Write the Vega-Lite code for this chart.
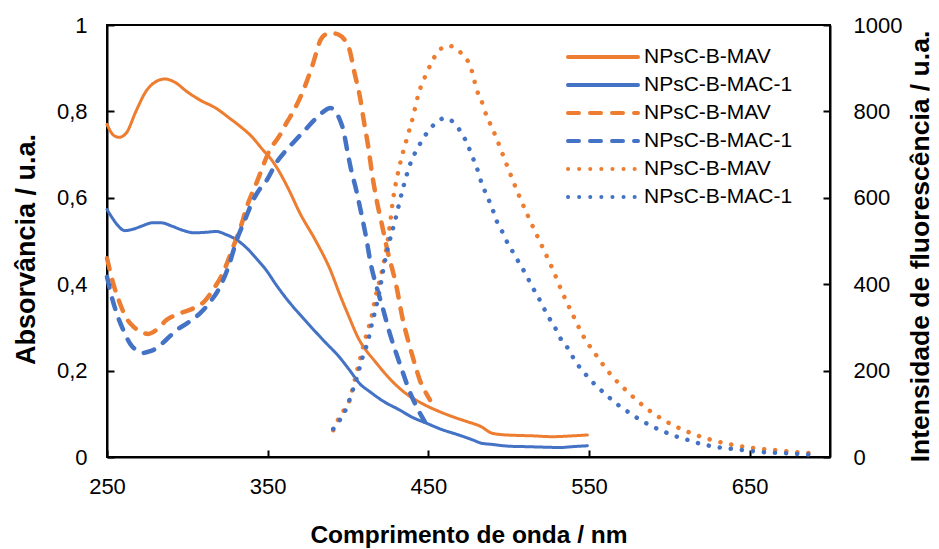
{
  "$schema": "https://vega.github.io/schema/vega-lite/v6.json",
  "width": 723,
  "height": 432,
  "autosize": {"type": "none"},
  "padding": {"left": 107, "top": 25, "right": 109, "bottom": 92},
  "background": "white",
  "config": {
    "font": "Liberation Sans",
    "view": {"stroke": "black", "strokeWidth": 2},
    "axis": {
      "domainColor": "black", "domainWidth": 2,
      "tickColor": "black", "tickWidth": 2, "tickSize": -7,
      "grid": false, "labelFlush": false, "labelOverlap": false,
      "labelFont": "Liberation Sans", "labelFontSize": 22, "labelColor": "black",
      "titleFont": "Liberation Sans", "titleFontSize": 24, "titleFontWeight": "bold", "titleColor": "black"
    }
  },
  "datasets": {
    "abs": [
      {"s": "1: NPsC-B-MAV", "nm": 250, "v": 0.770},
      {"s": "1: NPsC-B-MAV", "nm": 254, "v": 0.745},
      {"s": "1: NPsC-B-MAV", "nm": 257.5, "v": 0.740},
      {"s": "1: NPsC-B-MAV", "nm": 262, "v": 0.750},
      {"s": "1: NPsC-B-MAV", "nm": 268, "v": 0.800},
      {"s": "1: NPsC-B-MAV", "nm": 274, "v": 0.845},
      {"s": "1: NPsC-B-MAV", "nm": 280, "v": 0.868},
      {"s": "1: NPsC-B-MAV", "nm": 286, "v": 0.875},
      {"s": "1: NPsC-B-MAV", "nm": 292, "v": 0.868},
      {"s": "1: NPsC-B-MAV", "nm": 300, "v": 0.845},
      {"s": "1: NPsC-B-MAV", "nm": 308, "v": 0.826},
      {"s": "1: NPsC-B-MAV", "nm": 318, "v": 0.807},
      {"s": "1: NPsC-B-MAV", "nm": 326, "v": 0.785},
      {"s": "1: NPsC-B-MAV", "nm": 333, "v": 0.765},
      {"s": "1: NPsC-B-MAV", "nm": 340, "v": 0.742},
      {"s": "1: NPsC-B-MAV", "nm": 347, "v": 0.711},
      {"s": "1: NPsC-B-MAV", "nm": 352, "v": 0.690},
      {"s": "1: NPsC-B-MAV", "nm": 356, "v": 0.668},
      {"s": "1: NPsC-B-MAV", "nm": 363, "v": 0.620},
      {"s": "1: NPsC-B-MAV", "nm": 370, "v": 0.565},
      {"s": "1: NPsC-B-MAV", "nm": 380, "v": 0.500},
      {"s": "1: NPsC-B-MAV", "nm": 389, "v": 0.433},
      {"s": "1: NPsC-B-MAV", "nm": 395, "v": 0.375},
      {"s": "1: NPsC-B-MAV", "nm": 400, "v": 0.330},
      {"s": "1: NPsC-B-MAV", "nm": 407, "v": 0.271},
      {"s": "1: NPsC-B-MAV", "nm": 412, "v": 0.243},
      {"s": "1: NPsC-B-MAV", "nm": 416, "v": 0.225},
      {"s": "1: NPsC-B-MAV", "nm": 425, "v": 0.185},
      {"s": "1: NPsC-B-MAV", "nm": 436, "v": 0.147},
      {"s": "1: NPsC-B-MAV", "nm": 446, "v": 0.124},
      {"s": "1: NPsC-B-MAV", "nm": 457, "v": 0.105},
      {"s": "1: NPsC-B-MAV", "nm": 466, "v": 0.092},
      {"s": "1: NPsC-B-MAV", "nm": 474, "v": 0.082},
      {"s": "1: NPsC-B-MAV", "nm": 483, "v": 0.070},
      {"s": "1: NPsC-B-MAV", "nm": 489, "v": 0.056},
      {"s": "1: NPsC-B-MAV", "nm": 495, "v": 0.052},
      {"s": "1: NPsC-B-MAV", "nm": 505, "v": 0.050},
      {"s": "1: NPsC-B-MAV", "nm": 515, "v": 0.049},
      {"s": "1: NPsC-B-MAV", "nm": 527, "v": 0.047},
      {"s": "1: NPsC-B-MAV", "nm": 540, "v": 0.049},
      {"s": "1: NPsC-B-MAV", "nm": 549, "v": 0.051},
      {"s": "2: NPsC-B-MAC-1", "nm": 250, "v": 0.573},
      {"s": "2: NPsC-B-MAC-1", "nm": 253, "v": 0.555},
      {"s": "2: NPsC-B-MAC-1", "nm": 257, "v": 0.535},
      {"s": "2: NPsC-B-MAC-1", "nm": 261, "v": 0.524},
      {"s": "2: NPsC-B-MAC-1", "nm": 266, "v": 0.527},
      {"s": "2: NPsC-B-MAC-1", "nm": 272, "v": 0.535},
      {"s": "2: NPsC-B-MAC-1", "nm": 278, "v": 0.542},
      {"s": "2: NPsC-B-MAC-1", "nm": 284, "v": 0.542},
      {"s": "2: NPsC-B-MAC-1", "nm": 290, "v": 0.535},
      {"s": "2: NPsC-B-MAC-1", "nm": 297, "v": 0.525},
      {"s": "2: NPsC-B-MAC-1", "nm": 304, "v": 0.519},
      {"s": "2: NPsC-B-MAC-1", "nm": 311, "v": 0.520},
      {"s": "2: NPsC-B-MAC-1", "nm": 318, "v": 0.522},
      {"s": "2: NPsC-B-MAC-1", "nm": 324, "v": 0.515},
      {"s": "2: NPsC-B-MAC-1", "nm": 331, "v": 0.502},
      {"s": "2: NPsC-B-MAC-1", "nm": 338, "v": 0.480},
      {"s": "2: NPsC-B-MAC-1", "nm": 344, "v": 0.455},
      {"s": "2: NPsC-B-MAC-1", "nm": 349, "v": 0.433},
      {"s": "2: NPsC-B-MAC-1", "nm": 355, "v": 0.400},
      {"s": "2: NPsC-B-MAC-1", "nm": 362, "v": 0.365},
      {"s": "2: NPsC-B-MAC-1", "nm": 370, "v": 0.330},
      {"s": "2: NPsC-B-MAC-1", "nm": 378, "v": 0.297},
      {"s": "2: NPsC-B-MAC-1", "nm": 386, "v": 0.265},
      {"s": "2: NPsC-B-MAC-1", "nm": 394, "v": 0.234},
      {"s": "2: NPsC-B-MAC-1", "nm": 401, "v": 0.201},
      {"s": "2: NPsC-B-MAC-1", "nm": 407, "v": 0.171},
      {"s": "2: NPsC-B-MAC-1", "nm": 414, "v": 0.150},
      {"s": "2: NPsC-B-MAC-1", "nm": 422, "v": 0.129},
      {"s": "2: NPsC-B-MAC-1", "nm": 432, "v": 0.109},
      {"s": "2: NPsC-B-MAC-1", "nm": 440, "v": 0.092},
      {"s": "2: NPsC-B-MAC-1", "nm": 449, "v": 0.078},
      {"s": "2: NPsC-B-MAC-1", "nm": 458, "v": 0.064},
      {"s": "2: NPsC-B-MAC-1", "nm": 468, "v": 0.052},
      {"s": "2: NPsC-B-MAC-1", "nm": 478, "v": 0.039},
      {"s": "2: NPsC-B-MAC-1", "nm": 483, "v": 0.032},
      {"s": "2: NPsC-B-MAC-1", "nm": 490, "v": 0.029},
      {"s": "2: NPsC-B-MAC-1", "nm": 500, "v": 0.025},
      {"s": "2: NPsC-B-MAC-1", "nm": 510, "v": 0.024},
      {"s": "2: NPsC-B-MAC-1", "nm": 520, "v": 0.023},
      {"s": "2: NPsC-B-MAC-1", "nm": 532, "v": 0.022},
      {"s": "2: NPsC-B-MAC-1", "nm": 540, "v": 0.024},
      {"s": "2: NPsC-B-MAC-1", "nm": 549, "v": 0.026}
    ],
    "fl": [
      {"s": "3: NPsC-B-MAV", "nm": 250, "v": 460},
      {"s": "3: NPsC-B-MAV", "nm": 254, "v": 400},
      {"s": "3: NPsC-B-MAV", "nm": 258, "v": 356},
      {"s": "3: NPsC-B-MAV", "nm": 262, "v": 322},
      {"s": "3: NPsC-B-MAV", "nm": 266.4, "v": 302},
      {"s": "3: NPsC-B-MAV", "nm": 271, "v": 290},
      {"s": "3: NPsC-B-MAV", "nm": 275.7, "v": 285},
      {"s": "3: NPsC-B-MAV", "nm": 281, "v": 295},
      {"s": "3: NPsC-B-MAV", "nm": 287, "v": 317},
      {"s": "3: NPsC-B-MAV", "nm": 295, "v": 332},
      {"s": "3: NPsC-B-MAV", "nm": 303.7, "v": 344},
      {"s": "3: NPsC-B-MAV", "nm": 310, "v": 358},
      {"s": "3: NPsC-B-MAV", "nm": 316, "v": 387},
      {"s": "3: NPsC-B-MAV", "nm": 322, "v": 425},
      {"s": "3: NPsC-B-MAV", "nm": 328.6, "v": 487},
      {"s": "3: NPsC-B-MAV", "nm": 333, "v": 530},
      {"s": "3: NPsC-B-MAV", "nm": 337, "v": 579},
      {"s": "3: NPsC-B-MAV", "nm": 343, "v": 634},
      {"s": "3: NPsC-B-MAV", "nm": 351.4, "v": 711},
      {"s": "3: NPsC-B-MAV", "nm": 357.6, "v": 745},
      {"s": "3: NPsC-B-MAV", "nm": 362, "v": 775},
      {"s": "3: NPsC-B-MAV", "nm": 366, "v": 800},
      {"s": "3: NPsC-B-MAV", "nm": 370, "v": 830},
      {"s": "3: NPsC-B-MAV", "nm": 374, "v": 866},
      {"s": "3: NPsC-B-MAV", "nm": 378, "v": 908},
      {"s": "3: NPsC-B-MAV", "nm": 383, "v": 966},
      {"s": "3: NPsC-B-MAV", "nm": 386, "v": 978},
      {"s": "3: NPsC-B-MAV", "nm": 390, "v": 981},
      {"s": "3: NPsC-B-MAV", "nm": 394, "v": 978},
      {"s": "3: NPsC-B-MAV", "nm": 398, "v": 965},
      {"s": "3: NPsC-B-MAV", "nm": 401, "v": 942},
      {"s": "3: NPsC-B-MAV", "nm": 404, "v": 890},
      {"s": "3: NPsC-B-MAV", "nm": 407.4, "v": 834},
      {"s": "3: NPsC-B-MAV", "nm": 410, "v": 775},
      {"s": "3: NPsC-B-MAV", "nm": 412.6, "v": 718},
      {"s": "3: NPsC-B-MAV", "nm": 415, "v": 655},
      {"s": "3: NPsC-B-MAV", "nm": 417.8, "v": 595},
      {"s": "3: NPsC-B-MAV", "nm": 421, "v": 540},
      {"s": "3: NPsC-B-MAV", "nm": 424, "v": 487},
      {"s": "3: NPsC-B-MAV", "nm": 430.2, "v": 394},
      {"s": "3: NPsC-B-MAV", "nm": 434, "v": 320},
      {"s": "3: NPsC-B-MAV", "nm": 438.5, "v": 255},
      {"s": "3: NPsC-B-MAV", "nm": 442, "v": 210},
      {"s": "3: NPsC-B-MAV", "nm": 444.7, "v": 178},
      {"s": "3: NPsC-B-MAV", "nm": 448, "v": 152},
      {"s": "3: NPsC-B-MAV", "nm": 451, "v": 132},
      {"s": "4: NPsC-B-MAC-1", "nm": 250, "v": 417},
      {"s": "4: NPsC-B-MAC-1", "nm": 253, "v": 370},
      {"s": "4: NPsC-B-MAC-1", "nm": 256, "v": 333},
      {"s": "4: NPsC-B-MAC-1", "nm": 260, "v": 295},
      {"s": "4: NPsC-B-MAC-1", "nm": 264.3, "v": 263},
      {"s": "4: NPsC-B-MAC-1", "nm": 268, "v": 248},
      {"s": "4: NPsC-B-MAC-1", "nm": 272.6, "v": 241},
      {"s": "4: NPsC-B-MAC-1", "nm": 277, "v": 245},
      {"s": "4: NPsC-B-MAC-1", "nm": 281, "v": 252},
      {"s": "4: NPsC-B-MAC-1", "nm": 287, "v": 272},
      {"s": "4: NPsC-B-MAC-1", "nm": 293.4, "v": 294},
      {"s": "4: NPsC-B-MAC-1", "nm": 300, "v": 310},
      {"s": "4: NPsC-B-MAC-1", "nm": 308, "v": 333},
      {"s": "4: NPsC-B-MAC-1", "nm": 314, "v": 358},
      {"s": "4: NPsC-B-MAC-1", "nm": 320.3, "v": 394},
      {"s": "4: NPsC-B-MAC-1", "nm": 326, "v": 445},
      {"s": "4: NPsC-B-MAC-1", "nm": 330.7, "v": 502},
      {"s": "4: NPsC-B-MAC-1", "nm": 336, "v": 550},
      {"s": "4: NPsC-B-MAC-1", "nm": 341, "v": 595},
      {"s": "4: NPsC-B-MAC-1", "nm": 345, "v": 620},
      {"s": "4: NPsC-B-MAC-1", "nm": 349.3, "v": 640},
      {"s": "4: NPsC-B-MAC-1", "nm": 355.5, "v": 682},
      {"s": "4: NPsC-B-MAC-1", "nm": 362, "v": 712},
      {"s": "4: NPsC-B-MAC-1", "nm": 368, "v": 736},
      {"s": "4: NPsC-B-MAC-1", "nm": 374, "v": 760},
      {"s": "4: NPsC-B-MAC-1", "nm": 379, "v": 780},
      {"s": "4: NPsC-B-MAC-1", "nm": 384.6, "v": 799},
      {"s": "4: NPsC-B-MAC-1", "nm": 389, "v": 808},
      {"s": "4: NPsC-B-MAC-1", "nm": 392, "v": 800},
      {"s": "4: NPsC-B-MAC-1", "nm": 395, "v": 780},
      {"s": "4: NPsC-B-MAC-1", "nm": 397, "v": 758},
      {"s": "4: NPsC-B-MAC-1", "nm": 400, "v": 700},
      {"s": "4: NPsC-B-MAC-1", "nm": 402, "v": 664},
      {"s": "4: NPsC-B-MAC-1", "nm": 405, "v": 620},
      {"s": "4: NPsC-B-MAC-1", "nm": 407.4, "v": 579},
      {"s": "4: NPsC-B-MAC-1", "nm": 411.6, "v": 502},
      {"s": "4: NPsC-B-MAC-1", "nm": 414, "v": 450},
      {"s": "4: NPsC-B-MAC-1", "nm": 417.8, "v": 394},
      {"s": "4: NPsC-B-MAC-1", "nm": 422, "v": 340},
      {"s": "4: NPsC-B-MAC-1", "nm": 426, "v": 286},
      {"s": "4: NPsC-B-MAC-1", "nm": 430, "v": 240},
      {"s": "4: NPsC-B-MAC-1", "nm": 434.3, "v": 194},
      {"s": "4: NPsC-B-MAC-1", "nm": 438, "v": 155},
      {"s": "4: NPsC-B-MAC-1", "nm": 442.7, "v": 116},
      {"s": "4: NPsC-B-MAC-1", "nm": 447.8, "v": 82},
      {"s": "5: NPsC-B-MAV", "nm": 390.8, "v": 62},
      {"s": "5: NPsC-B-MAV", "nm": 395, "v": 95},
      {"s": "5: NPsC-B-MAV", "nm": 401, "v": 132},
      {"s": "5: NPsC-B-MAV", "nm": 405, "v": 190},
      {"s": "5: NPsC-B-MAV", "nm": 408.4, "v": 240},
      {"s": "5: NPsC-B-MAV", "nm": 411.5, "v": 283},
      {"s": "5: NPsC-B-MAV", "nm": 414.7, "v": 325},
      {"s": "5: NPsC-B-MAV", "nm": 417, "v": 368},
      {"s": "5: NPsC-B-MAV", "nm": 419.8, "v": 410},
      {"s": "5: NPsC-B-MAV", "nm": 422, "v": 445},
      {"s": "5: NPsC-B-MAV", "nm": 424, "v": 485},
      {"s": "5: NPsC-B-MAV", "nm": 426, "v": 535},
      {"s": "5: NPsC-B-MAV", "nm": 428, "v": 595},
      {"s": "5: NPsC-B-MAV", "nm": 432, "v": 672},
      {"s": "5: NPsC-B-MAV", "nm": 436.4, "v": 734},
      {"s": "5: NPsC-B-MAV", "nm": 440.5, "v": 788},
      {"s": "5: NPsC-B-MAV", "nm": 443.7, "v": 838},
      {"s": "5: NPsC-B-MAV", "nm": 448.9, "v": 888},
      {"s": "5: NPsC-B-MAV", "nm": 456, "v": 938},
      {"s": "5: NPsC-B-MAV", "nm": 462.3, "v": 952},
      {"s": "5: NPsC-B-MAV", "nm": 469.6, "v": 938},
      {"s": "5: NPsC-B-MAV", "nm": 476.9, "v": 896},
      {"s": "5: NPsC-B-MAV", "nm": 480, "v": 852},
      {"s": "5: NPsC-B-MAV", "nm": 484, "v": 815},
      {"s": "5: NPsC-B-MAV", "nm": 486.2, "v": 790},
      {"s": "5: NPsC-B-MAV", "nm": 489.3, "v": 765},
      {"s": "5: NPsC-B-MAV", "nm": 492.4, "v": 738},
      {"s": "5: NPsC-B-MAV", "nm": 497.6, "v": 688},
      {"s": "5: NPsC-B-MAV", "nm": 505.9, "v": 610},
      {"s": "5: NPsC-B-MAV", "nm": 512, "v": 558},
      {"s": "5: NPsC-B-MAV", "nm": 521.4, "v": 483},
      {"s": "5: NPsC-B-MAV", "nm": 527.6, "v": 433},
      {"s": "5: NPsC-B-MAV", "nm": 533.5, "v": 380},
      {"s": "5: NPsC-B-MAV", "nm": 539.7, "v": 331},
      {"s": "5: NPsC-B-MAV", "nm": 546.3, "v": 281},
      {"s": "5: NPsC-B-MAV", "nm": 554.6, "v": 235},
      {"s": "5: NPsC-B-MAV", "nm": 563.5, "v": 191},
      {"s": "5: NPsC-B-MAV", "nm": 574.3, "v": 150},
      {"s": "5: NPsC-B-MAV", "nm": 585.3, "v": 114},
      {"s": "5: NPsC-B-MAV", "nm": 597.7, "v": 83},
      {"s": "5: NPsC-B-MAV", "nm": 611, "v": 59},
      {"s": "5: NPsC-B-MAV", "nm": 625, "v": 41},
      {"s": "5: NPsC-B-MAV", "nm": 639.6, "v": 28},
      {"s": "5: NPsC-B-MAV", "nm": 654, "v": 20},
      {"s": "5: NPsC-B-MAV", "nm": 668.7, "v": 15},
      {"s": "5: NPsC-B-MAV", "nm": 680, "v": 11},
      {"s": "5: NPsC-B-MAV", "nm": 691.5, "v": 8},
      {"s": "6: NPsC-B-MAC-1", "nm": 390.8, "v": 65},
      {"s": "6: NPsC-B-MAC-1", "nm": 395, "v": 86},
      {"s": "6: NPsC-B-MAC-1", "nm": 399, "v": 113},
      {"s": "6: NPsC-B-MAC-1", "nm": 402.5, "v": 150},
      {"s": "6: NPsC-B-MAC-1", "nm": 406, "v": 190},
      {"s": "6: NPsC-B-MAC-1", "nm": 409, "v": 230},
      {"s": "6: NPsC-B-MAC-1", "nm": 412.6, "v": 271},
      {"s": "6: NPsC-B-MAC-1", "nm": 415, "v": 310},
      {"s": "6: NPsC-B-MAC-1", "nm": 417.8, "v": 352},
      {"s": "6: NPsC-B-MAC-1", "nm": 420, "v": 392},
      {"s": "6: NPsC-B-MAC-1", "nm": 421.9, "v": 433},
      {"s": "6: NPsC-B-MAC-1", "nm": 425, "v": 487},
      {"s": "6: NPsC-B-MAC-1", "nm": 429, "v": 543},
      {"s": "6: NPsC-B-MAC-1", "nm": 434.3, "v": 623},
      {"s": "6: NPsC-B-MAC-1", "nm": 438.5, "v": 676},
      {"s": "6: NPsC-B-MAC-1", "nm": 441.6, "v": 703},
      {"s": "6: NPsC-B-MAC-1", "nm": 445, "v": 726},
      {"s": "6: NPsC-B-MAC-1", "nm": 448.9, "v": 749},
      {"s": "6: NPsC-B-MAC-1", "nm": 454, "v": 771},
      {"s": "6: NPsC-B-MAC-1", "nm": 460, "v": 784},
      {"s": "6: NPsC-B-MAC-1", "nm": 466.5, "v": 772},
      {"s": "6: NPsC-B-MAC-1", "nm": 470.7, "v": 749},
      {"s": "6: NPsC-B-MAC-1", "nm": 474.4, "v": 724},
      {"s": "6: NPsC-B-MAC-1", "nm": 476.9, "v": 699},
      {"s": "6: NPsC-B-MAC-1", "nm": 480, "v": 672},
      {"s": "6: NPsC-B-MAC-1", "nm": 482, "v": 647},
      {"s": "6: NPsC-B-MAC-1", "nm": 484.5, "v": 622},
      {"s": "6: NPsC-B-MAC-1", "nm": 487.6, "v": 595},
      {"s": "6: NPsC-B-MAC-1", "nm": 490.3, "v": 570},
      {"s": "6: NPsC-B-MAC-1", "nm": 492.8, "v": 544},
      {"s": "6: NPsC-B-MAC-1", "nm": 496.5, "v": 518},
      {"s": "6: NPsC-B-MAC-1", "nm": 499.6, "v": 493},
      {"s": "6: NPsC-B-MAC-1", "nm": 503.4, "v": 470},
      {"s": "6: NPsC-B-MAC-1", "nm": 507, "v": 446},
      {"s": "6: NPsC-B-MAC-1", "nm": 511, "v": 421},
      {"s": "6: NPsC-B-MAC-1", "nm": 514.2, "v": 397},
      {"s": "6: NPsC-B-MAC-1", "nm": 518, "v": 373},
      {"s": "6: NPsC-B-MAC-1", "nm": 521.4, "v": 348},
      {"s": "6: NPsC-B-MAC-1", "nm": 525, "v": 323},
      {"s": "6: NPsC-B-MAC-1", "nm": 528.8, "v": 300},
      {"s": "6: NPsC-B-MAC-1", "nm": 532, "v": 276},
      {"s": "6: NPsC-B-MAC-1", "nm": 536.6, "v": 253},
      {"s": "6: NPsC-B-MAC-1", "nm": 540.5, "v": 228},
      {"s": "6: NPsC-B-MAC-1", "nm": 544.7, "v": 205},
      {"s": "6: NPsC-B-MAC-1", "nm": 549.7, "v": 184},
      {"s": "6: NPsC-B-MAC-1", "nm": 554.6, "v": 164},
      {"s": "6: NPsC-B-MAC-1", "nm": 560.2, "v": 146},
      {"s": "6: NPsC-B-MAC-1", "nm": 565.8, "v": 127},
      {"s": "6: NPsC-B-MAC-1", "nm": 571.8, "v": 111},
      {"s": "6: NPsC-B-MAC-1", "nm": 578, "v": 95},
      {"s": "6: NPsC-B-MAC-1", "nm": 584.2, "v": 81},
      {"s": "6: NPsC-B-MAC-1", "nm": 590.9, "v": 68},
      {"s": "6: NPsC-B-MAC-1", "nm": 597.7, "v": 57},
      {"s": "6: NPsC-B-MAC-1", "nm": 604.8, "v": 47},
      {"s": "6: NPsC-B-MAC-1", "nm": 612, "v": 39},
      {"s": "6: NPsC-B-MAC-1", "nm": 619, "v": 31},
      {"s": "6: NPsC-B-MAC-1", "nm": 626.4, "v": 25},
      {"s": "6: NPsC-B-MAC-1", "nm": 633.6, "v": 21},
      {"s": "6: NPsC-B-MAC-1", "nm": 641.3, "v": 18},
      {"s": "6: NPsC-B-MAC-1", "nm": 648.3, "v": 15},
      {"s": "6: NPsC-B-MAC-1", "nm": 655.8, "v": 12},
      {"s": "6: NPsC-B-MAC-1", "nm": 663, "v": 10},
      {"s": "6: NPsC-B-MAC-1", "nm": 670.7, "v": 9},
      {"s": "6: NPsC-B-MAC-1", "nm": 680, "v": 7},
      {"s": "6: NPsC-B-MAC-1", "nm": 693, "v": 4}
    ]
  },
  "layer": [
    {
      "data": {"name": "abs"},
      "mark": {"type": "line", "strokeWidth": 3, "strokeCap": "round", "strokeJoin": "round", "interpolate": "monotone"},
      "encoding": {
        "x": {
          "field": "nm", "type": "quantitative",
          "scale": {"domain": [250, 700], "nice": false, "zero": false},
          "axis": {"values": [250, 350, 450, 550, 650], "title": "Comprimento de onda / nm", "labelPadding": 26, "titlePadding": 26, "titleFontSize": 24.5}
        },
        "y": {
          "field": "v", "type": "quantitative",
          "scale": {"domain": [0, 1], "nice": false},
          "axis": {"orient": "left", "values": [0, 0.2, 0.4, 0.6, 0.8, 1], "labelExpr": "replace(format(datum.value, '.1~f'), '.', ',')", "title": "Absorvância / u.a.", "titleFontSize": 27, "titleY": 224, "labelPadding": 27, "titlePadding": 16}
        },
        "color": {
          "field": "s", "type": "nominal",
          "scale": {
            "domain": ["1: NPsC-B-MAV", "2: NPsC-B-MAC-1", "3: NPsC-B-MAV", "4: NPsC-B-MAC-1", "5: NPsC-B-MAV", "6: NPsC-B-MAC-1"],
            "range": ["#ED7D31", "#4472C4", "#ED7D31", "#4472C4", "#ED7D31", "#4472C4"]
          },
          "legend": {"orient": "none", "legendX": 459, "legendY": 18, "title": null, "symbolType": "stroke", "symbolSize": 4900, "symbolStrokeWidth": 4, "clipHeight": 28, "labelFont": "Liberation Sans", "labelFontSize": 21, "labelColor": "black", "labelOffset": 4, "rowPadding": 0, "labelExpr": "substring(datum.label, 3)", "encoding": {"symbols": {"strokeCap": {"value": "round"}}}}
        },
        "strokeDash": {
          "field": "s", "type": "nominal",
          "scale": {
            "domain": ["1: NPsC-B-MAV", "2: NPsC-B-MAC-1", "3: NPsC-B-MAV", "4: NPsC-B-MAC-1", "5: NPsC-B-MAV", "6: NPsC-B-MAC-1"],
            "range": [[1, 0], [1, 0], [11, 11], [11, 11], [0.1, 11], [0.1, 11]]
          },
          "legend": {"orient": "none", "legendX": 459, "legendY": 18, "title": null, "symbolType": "stroke", "symbolSize": 4900, "symbolStrokeWidth": 4, "clipHeight": 28, "labelFont": "Liberation Sans", "labelFontSize": 21, "labelColor": "black", "labelOffset": 4, "rowPadding": 0, "labelExpr": "substring(datum.label, 3)", "encoding": {"symbols": {"strokeCap": {"value": "round"}}}}
        }
      }
    },
    {
      "data": {"name": "fl"},
      "mark": {"type": "line", "strokeWidth": 4.5, "strokeCap": "round", "strokeJoin": "round", "interpolate": "monotone"},
      "encoding": {
        "x": {"field": "nm", "type": "quantitative"},
        "y": {
          "field": "v", "type": "quantitative",
          "scale": {"domain": [0, 1000], "nice": false},
          "axis": {"orient": "right", "values": [0, 200, 400, 600, 800, 1000], "format": "d", "title": "Intensidade de fluorescência / u.a.", "titleAngle": 270, "titleFontSize": 26.5, "titleFontWeight": "bold", "titleFont": "Liberation Sans", "titleColor": "black", "titleY": 221, "labelPadding": 30, "titlePadding": 33}
        },
        "color": {"field": "s", "type": "nominal"},
        "strokeDash": {"field": "s", "type": "nominal"}
      }
    }
  ],
  "resolve": {"scale": {"y": "independent"}}
}
